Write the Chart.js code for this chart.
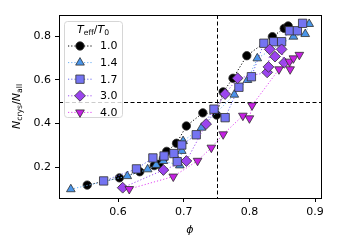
<!DOCTYPE html>
<html>
<head>
<meta charset="utf-8">
<script src="https://cdn.jsdelivr.net/npm/chart.js@4"></script>
<style>
  html, body { margin: 0; padding: 0; background: #fff; }
</style>
</head>
<body>
<canvas id="myChart" width="337" height="250"></canvas>
<script>
// T_eff / T_0 values shown in the legend
let ratioLabels = ["1.0", "1.4", "1.7", "3.0", "4.0"];

// phi (x) and N_crys/N_all (y)
let phi10 = [0.553, 0.602, 0.633, 0.655, 0.662, 0.669, 0.674, 0.689, 0.704, 0.729, 0.750, 0.760, 0.775, 0.796, 0.835, 0.853, 0.859];
let frac10 = [0.119, 0.152, 0.180, 0.208, 0.214, 0.241, 0.273, 0.310, 0.389, 0.449, 0.439, 0.545, 0.607, 0.710, 0.797, 0.835, 0.846];

let phi14 = [0.528, 0.614, 0.645, 0.658, 0.669, 0.694, 0.697, 0.699, 0.727, 0.777, 0.797, 0.812, 0.867, 0.885, 0.891];
let frac14 = [0.100, 0.160, 0.191, 0.211, 0.229, 0.209, 0.275, 0.320, 0.381, 0.532, 0.599, 0.698, 0.797, 0.809, 0.855];

let phi17 = [0.578, 0.628, 0.653, 0.670, 0.685, 0.690, 0.697, 0.719, 0.746, 0.763, 0.784, 0.803, 0.822, 0.837, 0.849, 0.861, 0.873, 0.881];
let frac17 = [0.138, 0.193, 0.243, 0.252, 0.263, 0.226, 0.302, 0.349, 0.466, 0.427, 0.566, 0.614, 0.767, 0.774, 0.774, 0.824, 0.824, 0.858];

let phi30 = [0.607, 0.669, 0.704, 0.734, 0.763, 0.782, 0.827, 0.829, 0.831, 0.839, 0.849, 0.853];
let frac30 = [0.107, 0.188, 0.229, 0.398, 0.535, 0.607, 0.634, 0.659, 0.739, 0.706, 0.739, 0.678];

let phi40 = [0.617, 0.684, 0.721, 0.742, 0.760, 0.790, 0.800, 0.804, 0.845, 0.861, 0.862, 0.867, 0.876];
let frac40 = [0.101, 0.158, 0.230, 0.290, 0.351, 0.436, 0.424, 0.483, 0.648, 0.683, 0.648, 0.698, 0.714];

let xTicks = [0.6, 0.7, 0.8, 0.9];
let yTicks = [0.2, 0.4, 0.6, 0.8];

let phiLine = 0.75;
let fracLine = 0.5;

let styles = [
  { fill: "#000000", line: "#000000", shape: "circle", radius: 4.2, rot: 0 },
  { fill: "#4a96ea", line: "#6cb0f4", shape: "triangle", radius: 5.0, rot: 0 },
  { fill: "#7474f2", line: "#6a6af0", shape: "rect", radius: 5.9, rot: 0 },
  { fill: "#9b45ee", line: "#a050f0", shape: "rectRot", radius: 5.4, rot: 0 },
  { fill: "#c620e4", line: "#e048f2", shape: "triangle", radius: 5.0, rot: 180 },
];

let allPhi = [phi10, phi14, phi17, phi30, phi40];
let allFrac = [frac10, frac14, frac17, frac30, frac40];

function makePoints(xs, ys) {
  return xs.map((x, i) => ({ x: x, y: ys[i] }));
}

let datasets = ratioLabels.map((lab, i) => ({
  label: lab,
  data: makePoints(allPhi[i], allFrac[i]),
  showLine: true,
  borderColor: styles[i].line,
  borderWidth: 1,
  borderDash: [1.2, 2],
  backgroundColor: styles[i].fill,
  pointBackgroundColor: styles[i].fill,
  pointBorderColor: "#303030",
  pointBorderWidth: 0.8,
  pointStyle: styles[i].shape,
  pointRotation: styles[i].rot,
  pointRadius: styles[i].radius,
  order: ratioLabels.length - i,
}));

// draws text pieces with italic / subscript parts
function fontFor(p, size) {
  let s = p.sub ? size * 0.7 : size;
  return (p.it ? "italic " : "") + s + "px 'DejaVu Sans'";
}
function richWidth(ctx, parts, size) {
  let w = 0;
  parts.forEach((p) => {
    ctx.font = fontFor(p, size);
    w += ctx.measureText(p.t).width;
  });
  return w;
}
function drawRich(ctx, parts, x, y, size) {
  let w = richWidth(ctx, parts, size);
  let cx = x - w / 2;
  ctx.textBaseline = "middle";
  ctx.textAlign = "left";
  parts.forEach((p) => {
    ctx.font = fontFor(p, size);
    ctx.fillText(p.t, cx, p.sub ? y + size * 0.25 : y);
    cx += ctx.measureText(p.t).width;
  });
}

let extras = {
  id: "extras",
  beforeDatasetsDraw(chart) {
    let ctx = chart.ctx;
    let xs = chart.scales.x, ys = chart.scales.y;
    let a = chart.chartArea;
    ctx.save();
    ctx.strokeStyle = "#000";
    ctx.lineWidth = 1;
    ctx.setLineDash([4, 2.5]);
    let px = Math.round(xs.getPixelForValue(phiLine)) + 0.5;
    let py = Math.round(ys.getPixelForValue(fracLine)) + 0.5;
    ctx.beginPath();
    ctx.moveTo(px, a.top);
    ctx.lineTo(px, a.bottom);
    ctx.moveTo(a.left, py);
    ctx.lineTo(a.right, py);
    ctx.stroke();
    ctx.restore();
  },
  afterDraw(chart) {
    let ctx = chart.ctx;
    let a = chart.chartArea;
    ctx.save();
    // frame
    ctx.strokeStyle = "#000";
    ctx.lineWidth = 1;
    ctx.strokeRect(Math.round(a.left) + 0.5, Math.round(a.top) + 0.5,
      Math.round(a.right - a.left), Math.round(a.bottom - a.top));

    // axis titles
    ctx.fillStyle = "#000";
    drawRich(ctx, [{ t: "\u03d5", it: true }], (a.left + a.right) / 2, 230, 11);
    ctx.save();
    ctx.translate(17, (a.top + a.bottom) / 2);
    ctx.rotate(-Math.PI / 2);
    drawRich(ctx, [{ t: "N", it: true }, { t: "crys", sub: true }, { t: "/" },
      { t: "N", it: true }, { t: "all", sub: true }], 0, 0, 11);
    ctx.restore();

    // legend
    let lx = 64, ly = 21, lw = 58, lh = 96;
    ctx.beginPath();
    ctx.roundRect(lx + 0.5, ly + 0.5, lw, lh, 3);
    ctx.fillStyle = "rgba(255,255,255,0.8)";
    ctx.fill();
    ctx.strokeStyle = "#d6d6d6";
    ctx.stroke();
    ctx.fillStyle = "#000";
    drawRich(ctx, [{ t: "T", it: true }, { t: "eff", sub: true }, { t: "/" },
      { t: "T", it: true }, { t: "0", sub: true }], lx + lw / 2, 30, 11);
    ratioLabels.forEach((lab, i) => {
      let y = 46 + i * 16.6;
      let st = styles[i];
      ctx.save();
      ctx.strokeStyle = st.line;
      ctx.lineWidth = 1;
      ctx.setLineDash([1.2, 2]);
      ctx.beginPath();
      ctx.moveTo(68, y);
      ctx.lineTo(92, y);
      ctx.stroke();
      ctx.restore();
      ctx.fillStyle = st.fill;
      ctx.strokeStyle = "#303030";
      ctx.lineWidth = 0.8;
      Chart.helpers.drawPoint(ctx, {
        pointStyle: st.shape, radius: st.radius, rotation: st.rot, borderWidth: 0.8,
      }, 80, y);
      ctx.fillStyle = "#000";
      ctx.font = "11px 'DejaVu Sans'";
      ctx.textAlign = "left";
      ctx.textBaseline = "middle";
      ctx.fillText(lab, 100, y + 0.5);
    });
    ctx.restore();
  },
};

let canvas = document.getElementById("myChart").getContext("2d");
let myChart = new Chart(canvas, {
  type: "scatter",
  data: { datasets: datasets },
  plugins: [extras],
  options: {
    responsive: false,
    animation: false,
    devicePixelRatio: 1,
    layout: { padding: { top: 15, right: 16, left: 0, bottom: 0 } },
    plugins: { legend: { display: false }, tooltip: { enabled: false } },
    scales: {
      x: {
        type: "linear",
        min: 0.51,
        max: 0.909,
        afterBuildTicks: (s) => { s.ticks = xTicks.map((v) => ({ value: v })); },
        afterFit: (s) => { s.height = 52; },
        grid: { drawOnChartArea: false, drawTicks: true, tickLength: 4, color: "#000" },
        border: { display: false },
        ticks: {
          color: "#000", padding: 4, maxRotation: 0,
          font: { family: "'DejaVu Sans'", size: 11 },
          callback: (v) => Number(v).toFixed(1),
        },
      },
      y: {
        type: "linear",
        min: 0.06,
        max: 0.896,
        afterBuildTicks: (s) => { s.ticks = yTicks.map((v) => ({ value: v })); },
        afterFit: (s) => { s.width = 59; },
        grid: { drawOnChartArea: false, drawTicks: true, tickLength: 4, color: "#000" },
        border: { display: false },
        ticks: {
          color: "#000", padding: 4,
          font: { family: "'DejaVu Sans'", size: 11 },
          callback: (v) => Number(v).toFixed(1),
        },
      },
    },
  },
});
</script>
</body>
</html>
